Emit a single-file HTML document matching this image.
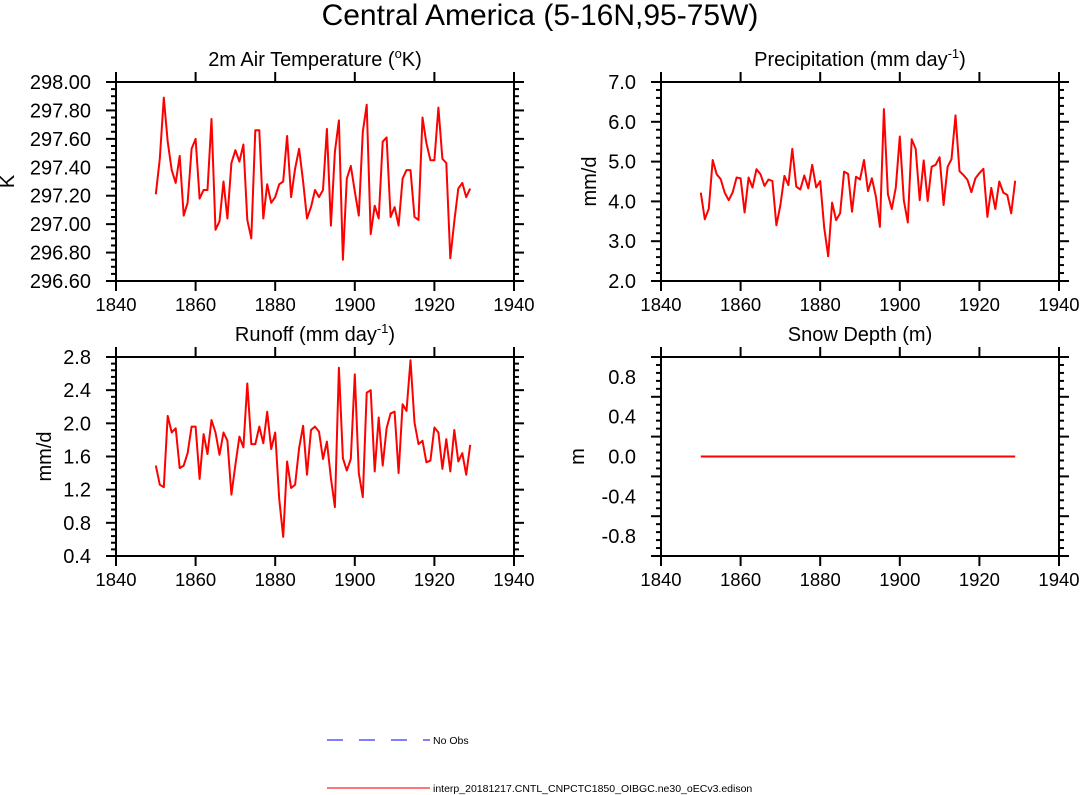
<!DOCTYPE html>
<html><head><meta charset="utf-8"><style>
body{margin:0;background:#fff;width:1080px;height:795px;overflow:hidden}
svg{display:block;font-family:"Liberation Sans",Arial,sans-serif}
</style></head><body>
<svg id="fig" width="1080" height="795">
<text x="540" y="25" font-size="30" text-anchor="middle">Central America (5-16N,95-75W)</text>
<g>
<line x1="327" y1="740" x2="430" y2="740" stroke="#3333ff" stroke-width="1.3" stroke-dasharray="16,16"/>
<text x="433" y="744" font-size="10.5">No Obs</text>
<line x1="327" y1="788" x2="430" y2="788" stroke="#ff2020" stroke-width="1.3"/>
<text x="433" y="792" font-size="10.5">interp_20181217.CNTL_CNPCTC1850_OIBGC.ne30_oECv3.edison</text>
</g>
</svg>
<script>
const years = []; for (let y = 1850; y <= 1929; y++) years.push(y);
const tempK = [297.21,297.46,297.89,297.58,297.38,297.29,297.48,297.06,297.15,297.53,297.60,297.18,297.24,297.24,297.74,296.96,297.02,297.30,297.04,297.43,297.52,297.44,297.56,297.03,296.90,297.66,297.66,297.04,297.28,297.15,297.19,297.28,297.30,297.62,297.19,297.39,297.53,297.30,297.04,297.12,297.24,297.19,297.24,297.67,296.99,297.51,297.73,296.75,297.32,297.41,297.23,297.06,297.65,297.84,296.93,297.13,297.04,297.58,297.61,297.05,297.12,296.99,297.32,297.38,297.38,297.05,297.03,297.75,297.57,297.45,297.45,297.82,297.46,297.43,296.76,297.02,297.25,297.29,297.19,297.25];
const precip = [4.22,3.55,3.82,5.04,4.68,4.56,4.22,4.03,4.22,4.60,4.58,3.72,4.60,4.35,4.81,4.68,4.39,4.55,4.51,3.40,3.91,4.64,4.41,5.32,4.37,4.30,4.65,4.33,4.92,4.35,4.51,3.34,2.62,3.97,3.53,3.70,4.75,4.69,3.74,4.62,4.55,5.04,4.26,4.58,4.12,3.36,6.32,4.18,3.81,4.35,5.63,4.03,3.47,5.56,5.32,4.03,5.03,4.01,4.87,4.92,5.11,3.91,4.87,5.06,6.16,4.76,4.66,4.54,4.23,4.58,4.71,4.82,3.61,4.34,3.81,4.50,4.22,4.16,3.70,4.52];
const runoff = [1.49,1.26,1.23,2.09,1.89,1.94,1.46,1.49,1.64,1.96,1.96,1.33,1.87,1.63,2.04,1.89,1.62,1.89,1.79,1.14,1.50,1.84,1.71,2.48,1.75,1.75,1.96,1.76,2.14,1.69,1.89,1.09,0.63,1.54,1.22,1.26,1.70,1.97,1.38,1.92,1.96,1.90,1.57,1.78,1.34,0.99,2.67,1.58,1.43,1.57,2.59,1.40,1.11,2.37,2.40,1.42,2.07,1.49,1.94,2.12,2.14,1.40,2.23,2.15,2.76,2.01,1.75,1.79,1.53,1.55,1.95,1.89,1.45,1.81,1.42,1.92,1.54,1.64,1.38,1.74];
const snow = years.map(() => 0);
const xTicks = [1840,1860,1880,1900,1920,1940];
const tempTicks = ["296.60","296.80","297.00","297.20","297.40","297.60","297.80","298.00"];
const precipTicks = ["2.0","3.0","4.0","5.0","6.0","7.0"];
const runoffTicks = ["0.4","0.8","1.2","1.6","2.0","2.4","2.8"];
const snowTicks = ["-0.8","-0.4","0.0","0.4","0.8"];

const NS = "http://www.w3.org/2000/svg";
const svg = document.getElementById("fig");
function mk(tag, attrs, parent) { const e = document.createElementNS(NS, tag); for (const k in attrs) e.setAttribute(k, attrs[k]); (parent || svg).appendChild(e); return e; }

function panel(o) {
  const g = mk("g", {});
  
  
  const L = o.x, T = o.y, W = 398, H = 199, R = L + W, B = T + H;
  const sx = v => L + (v - 1840) / 100 * W;
  const sy = v => B - (v - o.ymin) / (o.ymax - o.ymin) * H;
  const frame = mk("rect", {x: L, y: T, width: W, height: H, fill: "none", stroke: "#000", "stroke-width": 2}, g);
  
  
  for (let v = 1840; v <= 1940; v += 20) {
    const x = sx(v);
    mk("line", {x1: x, y1: B, x2: x, y2: B + 10, stroke: "#000", "stroke-width": 2}, g);
    mk("line", {x1: x, y1: T, x2: x, y2: T - 10, stroke: "#000", "stroke-width": 2}, g);
  }
  xTicks.forEach(v => {
    const t = mk("text", {x: sx(v), y: B + 30, "font-size": 18.5, "text-anchor": "middle"}, g);
    t.textContent = v;
    
    
  });
  const nmin = o.minor;
  for (let v = o.ymin; v <= o.ymax + 1e-9; v += nmin) {
    const y = sy(v);
    const k = Math.round((v - o.ymin) / nmin);
    const maj = k % o.per === 0, len = maj ? 10 : 5;
    mk("line", {x1: L, y1: y, x2: L - len, y2: y, stroke: "#000", "stroke-width": 2}, g);
    mk("line", {x1: R, y1: y, x2: R + len, y2: y, stroke: "#000", "stroke-width": 2}, g);
  }
  o.ticks.forEach(s => {
    const t = mk("text", {x: L - 25, y: sy(parseFloat(s)) + 7, "font-size": 20, "text-anchor": "end"}, g);
    t.textContent = s;
    
    
  });
  const yt = mk("text", {x: o.ylabX, y: (T + B) / 2, "font-size": 20, "text-anchor": "middle", transform: `rotate(-90 ${o.ylabX} ${(T + B) / 2})`}, g);
  yt.textContent = o.ylab;
  
  
  const tt = mk("text", {x: (L + R) / 2, y: T - 16, "font-size": 20, "text-anchor": "middle"}, g);
  tt.innerHTML = o.title;
  
  
  const pts = o.data.map((v, i) => sx(years[i]).toFixed(1) + "," + sy(v).toFixed(1)).join(" ");
  const pl = mk("polyline", {points: pts, fill: "none", stroke: "#ff0000", "stroke-width": 2, "stroke-linejoin": "round"}, g);
  
  
}

panel({name: "temperature-panel", x: 116, y: 82, ymin: 296.6, ymax: 298.0, minor: 0.05, per: 4, ticks: tempTicks, data: tempK, ylab: "K", ylabX: 14, title: '2m Air Temperature (<tspan dy="-8" font-size="13">o</tspan><tspan dy="8">K)</tspan>'});
panel({name: "precipitation-panel", x: 661, y: 82, ymin: 2, ymax: 7, minor: 0.2, per: 5, ticks: precipTicks, data: precip, ylab: "mm/d", ylabX: 596, title: 'Precipitation (mm day<tspan dy="-8" font-size="13">-1</tspan><tspan dy="8">)</tspan>'});
panel({name: "runoff-panel", x: 116, y: 357, ymin: 0.4, ymax: 2.8, minor: 0.08, per: 5, ticks: runoffTicks, data: runoff, ylab: "mm/d", ylabX: 51, title: 'Runoff (mm day<tspan dy="-8" font-size="13">-1</tspan><tspan dy="8">)</tspan>'});
panel({name: "snow-depth-panel", x: 661, y: 357, ymin: -1, ymax: 1, minor: 0.08, per: 5, ticks: snowTicks, data: snow, ylab: "m", ylabX: 584, title: 'Snow Depth (m)'});
</script>
</body></html>
